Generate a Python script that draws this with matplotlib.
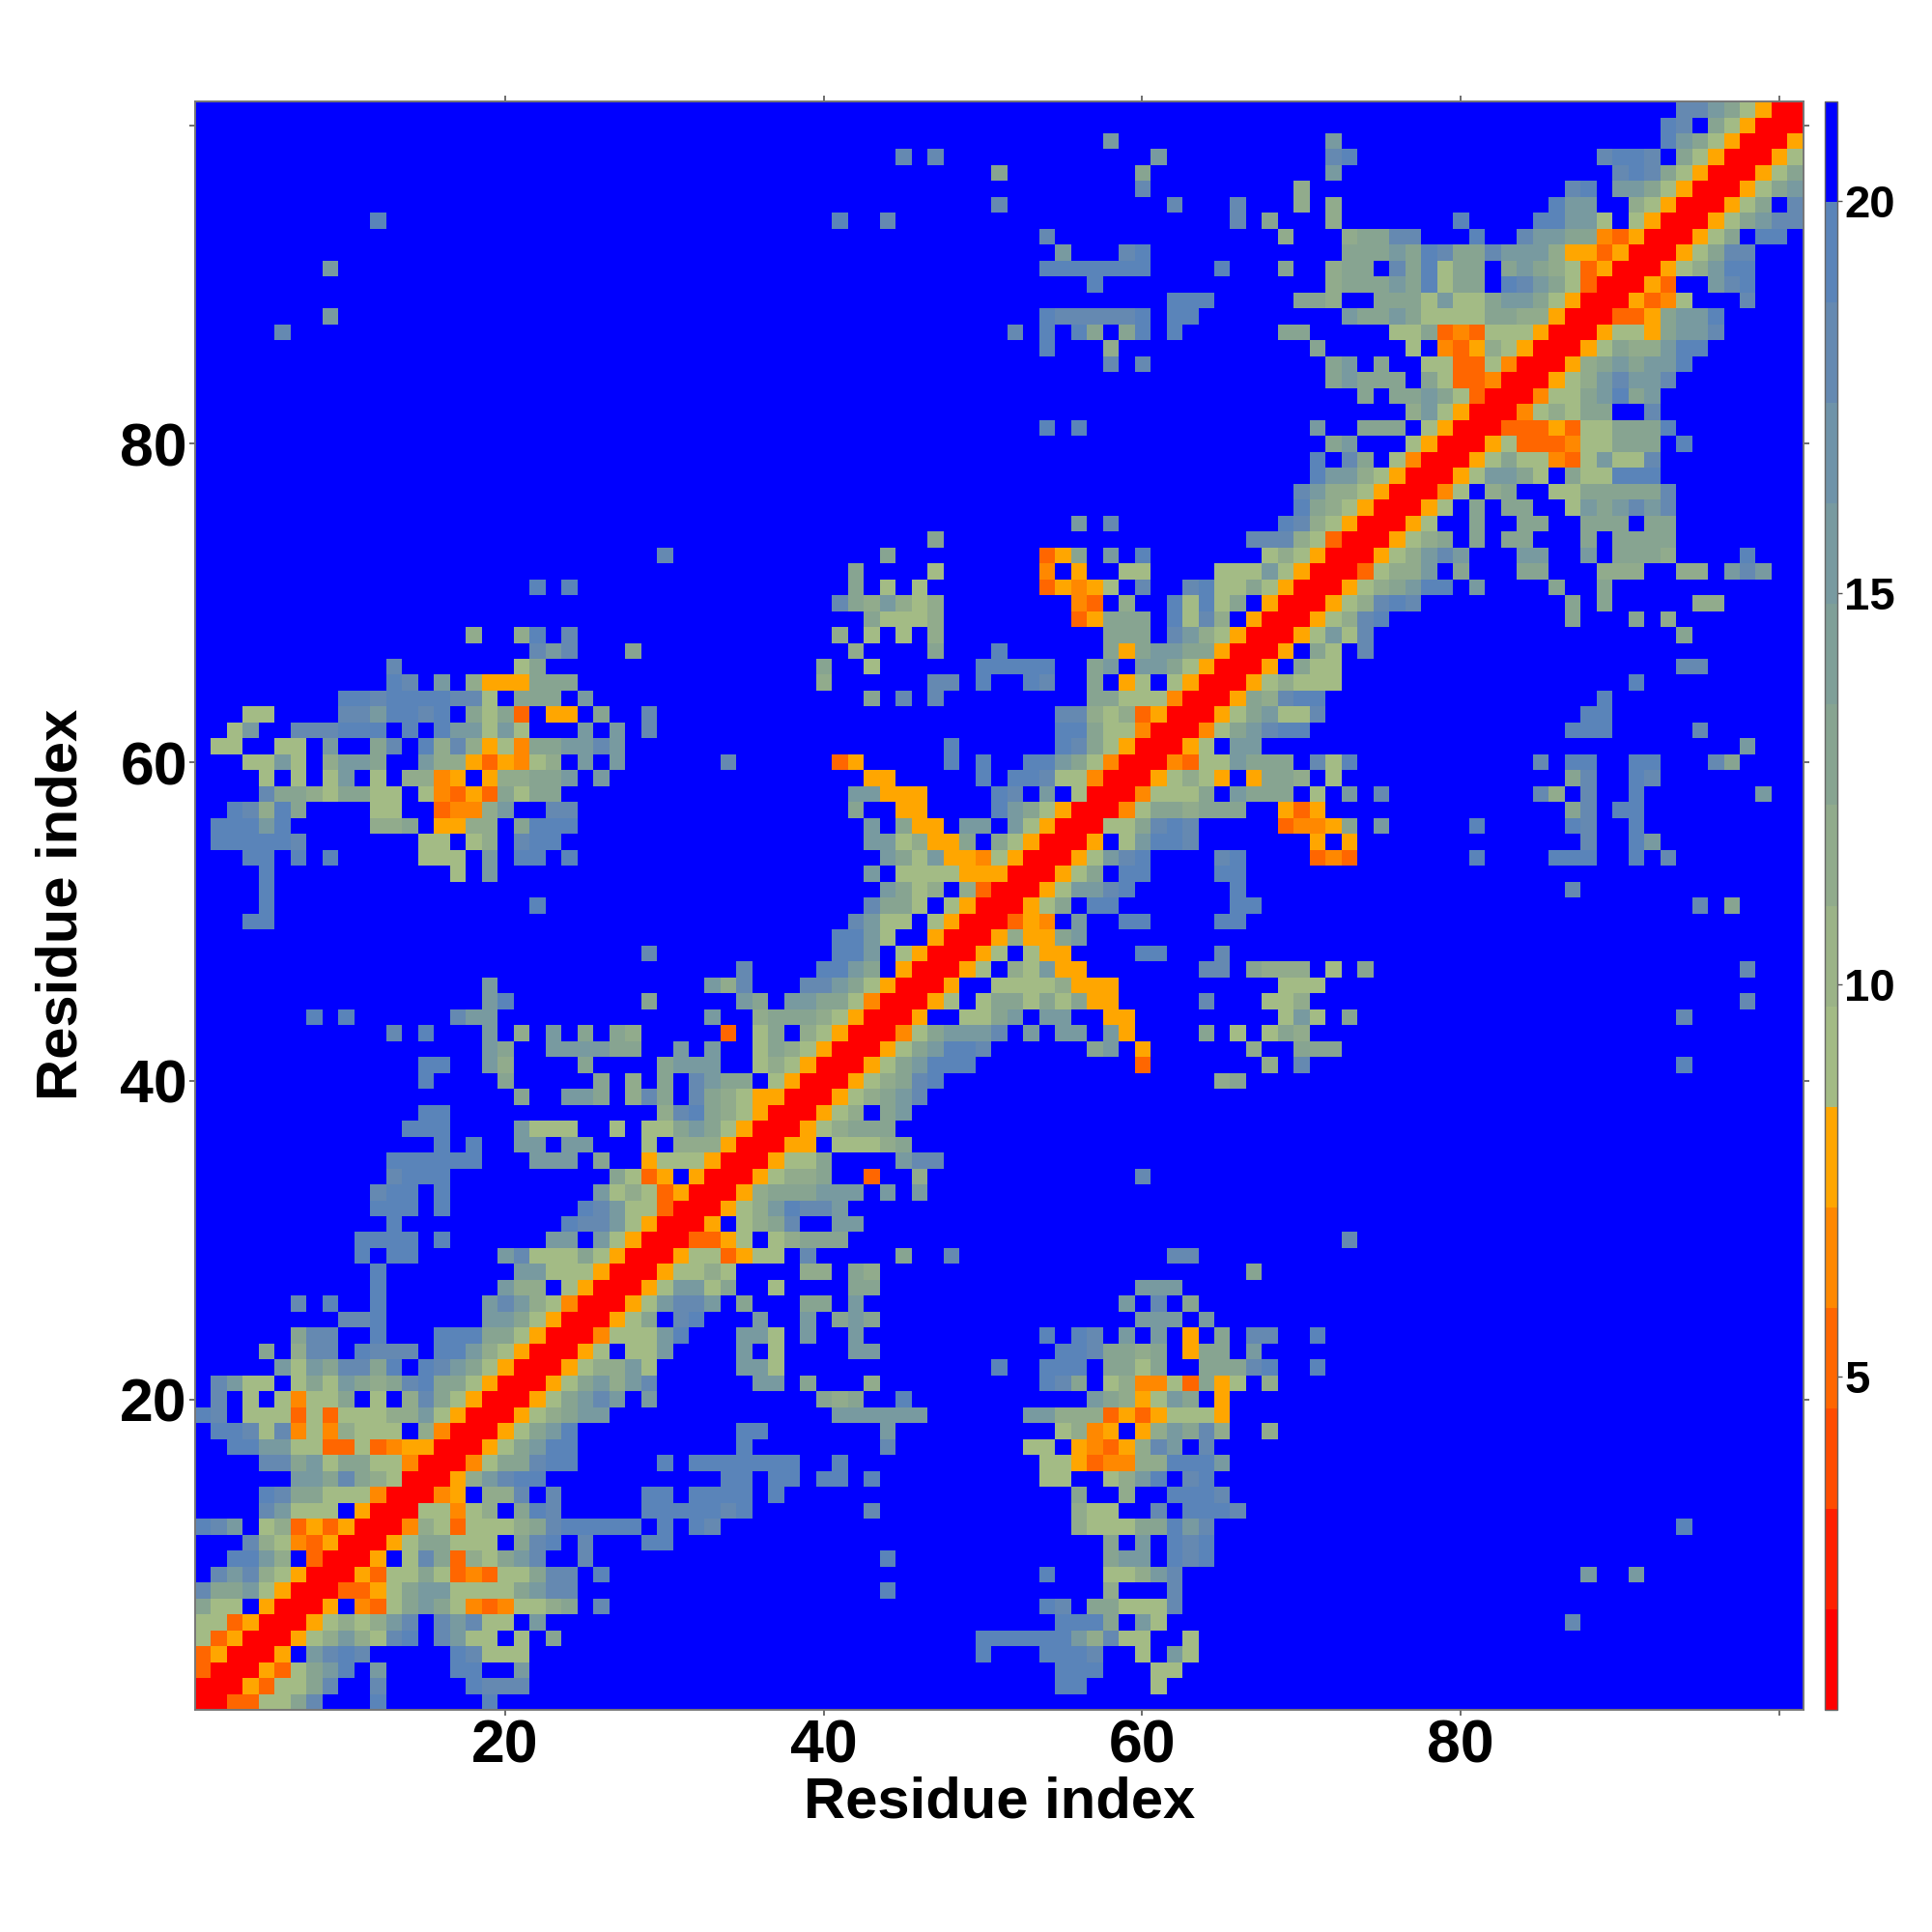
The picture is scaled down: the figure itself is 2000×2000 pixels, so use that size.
import numpy as np
import matplotlib
matplotlib.use("Agg")
import matplotlib.pyplot as plt
from matplotlib.colors import ListedColormap, Normalize
from matplotlib.cm import ScalarMappable

plt.rcParams['font.family'] = ['Liberation Sans', 'DejaVu Sans']
plt.rcParams['font.weight'] = 'bold'

n_res = 101
vmin = 0.747
vmax = 21.27
band_colors = ['#ff0000', '#ff2000', '#ff4c00', '#ff6600', '#ff8800', '#ffa600',
               '#a3bb85', '#9bb387', '#91ab8c', '#87a491', '#7f9f98', '#789aa0',
               '#6f93a9', '#6589b1', '#5a84b9', '#0000ff']
main_ticks = [20, 40, 60, 80, 100]
main_ticklabels = ['20', '40', '60', '80', '']
cbar_ticks = [5, 10, 15, 20]
axis_label = 'Residue index'

# shade letter used in rows -> colour band
shade_band = {'0': 0, '3': 3, '4': 4, '5': 5, '6': 6, '7': 6, '8': 8, '9': 9,
              'a': 11, 'b': 13, 'c': 14}

# contact map shades, one string per residue starting right after the diagonal
# '.' = blue (far apart), mirrored below the diagonal
_ = "."
rows = [
    "033669b...c......c",
    "053669b..b.....cbbb" + _*33 + "cc....7",
    "05379ac.a....cc..a" + _*33 + "ccc...77",
    "05.abcb.....cb777" + _*28 + "c...cccb..7.a7",
    "0578a87bc.ba77.7.9" + _*26 + "cccccca8b77..7",
    "057878ab.bab77.a" + _*32 + "ccc9.a7" + _*25 + "b",
    "05.4379a974347789.b" + _*27 + "cb.99777b",
    "033579aa77779abb" + _*19 + "c" + _*13 + "8...b",
    "0537797343779bb.c" + _*27 + "c...778ab" + _*25 + "a..a",
    "05.7b93879ab..b" + _*18 + "c" + _*13 + "9aa.cbc",
    "05799777.9bc.b...cc" + _*27 + "9.a.cbc",
    "0487377789bccccc.c.cb" + _*22 + "877799cab" + _*29 + "c",
    "077478.9cb.....cccccbc" + _*7 + "b" + _*12 + "877..b.cccb",
    "045.88b.b.....cc.cccc" + "." + "c" + _*18 + "9..8..cccb",
    "058abcc" + _*11 + "cc.cc.cc.c" + _*10 + "77..78ac.bc",
    "04799bcc" + _*5 + "c.ccccccc..c" + _*12 + "77534488ccca",
    "0579acc" + _*10 + "c" + _*8 + "b" + _*8 + "77.54358ba.b",
    "0579ac" + _*10 + "cc" + _*7 + "a" + _*10 + "7845.58a9b8..8",
    "05789aa" + _*14 + "aaaaaa" + _*6 + "aa88835357775",
    "0579aba.a" + _*10 + "989..c" + _*11 + "a9857a9.5",
    "0579a8ab" + _*6 + "aa.9...8" + _*10 + "cb9.784473957.8",
    "05788a7" + _*5 + "aa7" + _*13 + "c..ccc.9979..999bc..c",
    "057.77a" + _*4 + "a.7" + _*4 + "aa" + _*11 + "ccb9989.599.a",
    "04777ac" + _*3 + "aa7.a..a" + _*11 + "c.cb.a.a.5.9.bb..c",
    "0579.bc...a..a.9a9" + _*16 + "aaa.a",
    "057abba.9...99.a" + _*16 + "a.b.9",
    "057aa79..7....99" + _*16 + "aaa",
    "057787....88.98" + _*23 + "9",
    "05773577.b.....9..b" + _*13 + "bb",
    "03357.78999" + _*31 + "b",
    "05.789b..aa",
    "0578acbba",
    "058999aaa.a.a",
    "057889..3..8" + _*13 + "b",
    "05779....abb",
    "055.77789",
    "0578999",
    "0578.9a",
    "05789ab",
    "05789bc" + _*17 + "89",
    "0579accc" + _*10 + "3" + _*7 + "8.b" + _*23 + "c",
    "0579accb" + _*6 + "9a.5" + _*6 + "8..999",
    "0479aaab.a.aa.a5" + _*4 + "9.7.798",
    "05..779a.aa..55" + _*9 + "7a7.9" + _*20 + "b",
    "057.799797955" + _*5 + "b" + _*3 + "778" + _*27 + "b",
    "05..77778555" + _*10 + "777",
    "057.87a55" + _*7 + "bb.9888.7.9" + _*23 + "b",
    "057.755....cc...b",
    "058559a",
    "0354.a..cc....cc",
    "0579.cc" + _*7 + "cc" + _*27 + "b.9",
    "057aabc" + _*6 + "c" + _*20 + "b",
    "0579.cc....cc",
    "057abc....bc....343" + _*7 + "c....ccc..c.b",
    "05.7accb" + _*7 + "5.5" + _*14 + "b..ca",
    "0779bcb" + _*5 + "34459.a" + _*5 + "c" + _*5 + "cb..c",
    "047998999" + _*2 + "535" + _*15 + "9b.cc",
    "047779.a" + "999.7.a.b" + _*9 + "b8.b..c" + _*7 + "a",
    "057875.5" + "998.7" + _*14 + "9b..cb",
    "04377a" + "999.b7c" + _*11 + "b.cc..cc...b9",
    "057.aa" + _*30 + "a",
    "0479abcc" + _*16 + "ccc" + _*5 + "b",
    "0579a77b" + _*16 + "cc",
    "0598bcc" + _*17 + "c",
    "0578777" + _*18 + "c",
    "05.977" + _*21 + "bb",
    "05.97.b",
    "057a7b" + _*19 + "9",
    "0578bc" + _*11 + "9...9.8",
    "0578bcb" + _*9 + "9.9.....88",
    "05789acc.a....9..9",
    "03788a.9...99...888..88.aba",
    "0578aba...aa..a.9998....c",
    "05789.9.99...9.9999",
    "057..9..99..999.99",
    "057.9.99..7a9abab",
    "047.89..7799999b",
    "057aa97.977ccc",
    "057977437a77b",
    "057333477999.c",
    "03335377999c",
    "0478799..b",
    "04779ac9a",
    "0578abaab",
    "0589a9aac",
    "057988acc",
    "057759aab",
    "03359aac",
    "05347...b",
    "053..abc",
    "0578acc",
    "0579bb",
    "0579.cc",
    "0579abb",
    "0579.b",
    "0579a",
    "0579",
    "057",
    "05",
    "0",
]

step = (vmax - vmin) / len(band_colors)
dist = np.full((n_res, n_res), vmax - step / 2)
np.fill_diagonal(dist, vmin + step / 2)
for i, row in enumerate(rows):
    for k, ch in enumerate(row[:n_res - i - 1]):
        if ch != ".":
            j = i + 1 + k
            dist[i, j] = dist[j, i] = vmin + (shade_band[ch] + 0.5) * step

cmap = ListedColormap(band_colors)
norm = Normalize(vmin=vmin, vmax=vmax)

fig = plt.figure(figsize=(10, 10), dpi=200)
ax = fig.add_axes([201.5/2000, 1 - 1770/2000, 1665/2000, 1665/2000])
ax.imshow(dist, origin='lower', cmap=cmap, norm=norm, interpolation='nearest',
          extent=(0.5, n_res + 0.5, 0.5, n_res + 0.5), aspect='auto')
ax.set_xticks(main_ticks)
ax.set_yticks(main_ticks)
ax.set_xticklabels(main_ticklabels, fontsize=22.5, fontweight='bold')
ax.set_yticklabels(main_ticklabels, fontsize=22.5, fontweight='bold')
ax.tick_params(top=True, right=True, length=2.2, width=0.6, color='#555555', pad=5)
ax.tick_params(axis='y', pad=0.5)
ax.tick_params(axis='x', pad=1)
for spine in ax.spines.values():
    spine.set_color('#777777')
    spine.set_linewidth(0.7)

cax = fig.add_axes([1889/2000, 1 - 1770/2000, 12.7/2000, 1665/2000])
cb = fig.colorbar(ScalarMappable(norm=norm, cmap=cmap), cax=cax, ticks=cbar_ticks)
cb.ax.tick_params(length=1.8, width=0.5, color='#555555', pad=1, labelsize=17)
cb.outline.set_edgecolor('#666666')
cb.outline.set_linewidth(0.5)
for lab in cb.ax.get_yticklabels():
    lab.set_fontweight('bold')

fig.text(1035/2000, 1 - 1866/2000, axis_label, fontsize=21.5, fontweight='bold',
         ha='center', va='center')
fig.text(64/2000, 1 - 936/2000, axis_label, fontsize=21.5, fontweight='bold',
         rotation=90, ha='center', va='center')

fig.savefig('out.png', dpi=200, facecolor='white')
